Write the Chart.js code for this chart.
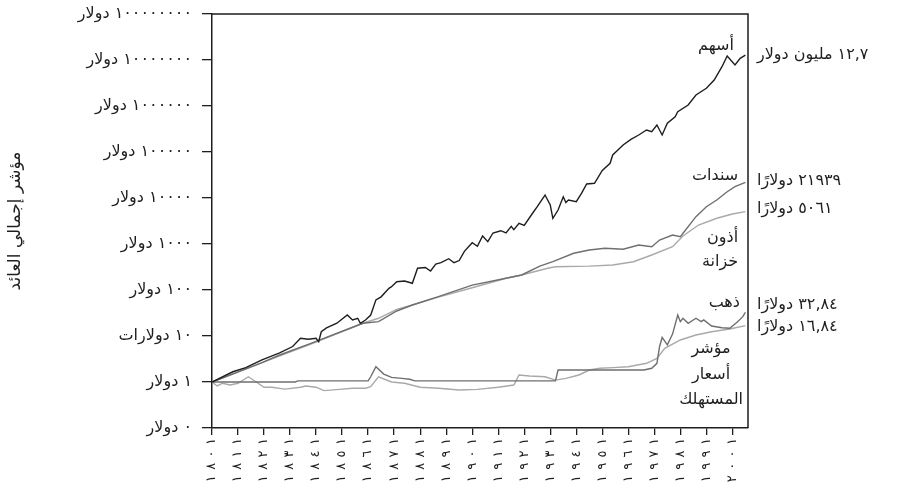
<!DOCTYPE html>
<html lang="ar">
<head>
<meta charset="utf-8">
<script src="https://cdn.jsdelivr.net/npm/chart.js@4.4.1/dist/chart.umd.min.js"></script>
<style>
  html, body { margin: 0; padding: 0; background: #fff; }
</style>
</head>
<body>
<canvas id="returns" width="907" height="495"></canvas>
<script>
// ---------- Data ($1 invested in 1801) ----------
const stockYears = [1801,1809,1814,1820,1827,1832,1835,1838,1841,1842,1843,1845,1849,1853,1855,1857,1858,1860,1862,1864,
  1866,1869,1870,1872,1875,1878,1880,1883,1885,1887,1889,1892,1894,1896,1898,1901,1903,1905,1907,1909,
  1912,1914,1916,1917,1919,1921,1924,1926,1929,1931,1932,1934,1936,1937,1938,1941,1943,1945,1948,1951,
  1954,1955,1957,1959,1962,1965,1968,1970,1972,1974,1976,1979,1980,1984,1987,1991,1994,1997,1999,2002,
  2004,2006];
const stockValues = [1,1.67,2.05,3.0,4.3,5.9,8.9,8.5,8.9,7.5,12.4,15,19,28.6,22.3,24.3,18.9,22.3,28.6,61,
  71,109,118,151,157,140,297,308,259,367,392,479,392,437,693,1067,891,1493,1122,1734,
  1945,1734,2427,2047,2818,2552,4487,6471,11610,7049,3622,5480,10670,7980,9050,8320,12650,20140,20890,39650,
  56750,86100,110500,141900,188700,234200,300900,276300,386300,234200,420700,585000,751000,1052000,1735000,2427000,3673000,7145000,12220000,7782000,
  10890000,12700000];

const bondYears = [1801,1820,1827,1839,1859,1865,1872,1878,1888,1901,1914,1920,1927,1932,1940,1946,1952,1959,1965,1970,
  1973,1978,1981,1983,1987,1991,1995,1999,2002,2006];
const bondValues = [1,2.6,3.86,6.9,18.9,20.5,35,47.2,71.5,128,180,212,332,412,628,741,807,767,951,873,
  1222,1570,1443,2015,3926,6471,9050,13710,17620,21939];

const billYears = [1801,1820,1839,1859,1865,1872,1878,1888,1901,1914,1920,1930,1933,1946,1955,1963,1970,1978,1982,1988,
  1995,2001,2006];
const billValues = [1,2.6,6.7,18.9,24.3,38,47.2,70,112,180,212,297,321,330,349,412,577,873,1493,2588,
  3622,4487,5061];

const goldYears = [1801,1833,1834,1861,1862,1864,1867,1870,1874,1877,1879,1933,1934,1967,1970,1972,1973,1974,1976,1978,
  1980,1981,1982,1984,1987,1989,1990,1993,1997,2000,2003,2005,2006];
const goldValues = [1,1,1.06,1.06,1.3,2.15,1.49,1.26,1.2,1.15,1.06,1.06,1.82,1.82,1.99,2.55,5.85,9.3,6.4,11,
  28.6,20.5,24.3,18.9,24.3,20.5,22.3,16.5,15.1,14.7,20.5,26.3,32.84];

const cpiYears = [1801,1803,1805,1808,1811,1815,1818,1821,1824,1829,1835,1837,1841,1844,1850,1855,1860,1862,1865,1870,
  1875,1881,1888,1896,1903,1911,1917,1919,1923,1929,1933,1937,1942,1946,1950,1955,1961,1968,1972,1975,
  1981,1987,1993,2000,2006];
const cpiValues = [1,0.82,0.94,0.86,0.94,1.3,1.0,0.77,0.77,0.7,0.77,0.82,0.77,0.65,0.69,0.73,0.73,0.79,1.3,1.0,
  0.94,0.77,0.73,0.67,0.69,0.77,0.86,1.42,1.35,1.3,1.1,1.2,1.42,1.82,1.99,2.05,2.15,2.55,3.27,5.41,
  8.2,10.5,12.4,14.2,16.84];

const xTickYears = [1801,1811,1821,1831,1841,1851,1861,1871,1881,1891,1901,1911,1921,1931,1941,1951,1961,1971,1981,1991,2001];
const yTickValues = [0.1,1,10,100,1000,10000,100000,1000000,10000000,100000000];
const yTickLabels = ['٠ دولار','١ دولار','١٠ دولارات','١٠٠ دولار','١٠٠٠ دولار','١٠٠٠٠ دولار',
  '١٠٠٠٠٠ دولار','١٠٠٠٠٠٠ دولار','١٠٠٠٠٠٠٠ دولار','١٠٠٠٠٠٠٠٠ دولار'];
const endLabels = ['١٢,٧ مليون دولار','٢١٩٣٩ دولارًا','٥٠٦١ دولارًا','٣٢,٨٤ دولارًا','١٦,٨٤ دولارًا'];

// ---------- Helpers ----------
const AR_DIGITS = '٠١٢٣٤٥٦٧٨٩';
const toArabic = (n) => String(n).replace(/\d/g, d => AR_DIGITS[d]);
// year labels are printed with wide gaps between digits; the LRM keeps digit order intact
const spacedYear = (n) => toArabic(n).split('').join('\u200E \u200A');
const pairs = (xs, ys) => xs.map((x, i) => ({ x, y: ys[i] }));

const INK = '#1e1e1e';
const MID = '#6f6f6f';
const LIGHT = '#a9a9a9';

Chart.defaults.font.family = "'DejaVu Sans', sans-serif";
Chart.defaults.color = INK;

function line(label, xs, ys, color) {
  return {
    label,
    data: pairs(xs, ys),
    borderColor: color,
    borderWidth: 1.4,
    pointRadius: 0,
    tension: 0,
    fill: false
  };
}

// Frame (top/right) + series names + end values
const frameAndLabels = {
  id: 'frameAndLabels',
  afterDatasetsDraw(chart) {
    const { ctx, chartArea: a, scales: { x, y } } = chart;
    ctx.save();
    ctx.strokeStyle = INK;
    ctx.lineWidth = 1.5;
    ctx.beginPath();
    ctx.moveTo(a.left, a.top);
    ctx.lineTo(a.right, a.top);
    ctx.lineTo(a.right, a.bottom);
    ctx.stroke();

    ctx.fillStyle = INK;
    ctx.font = "16px 'DejaVu Sans', sans-serif";
    ctx.textBaseline = 'middle';

    // series names inside the plot, anchored in data space
    const names = [
      ['أسهم', 2001.6, 2.0e7, 'right'],
      ['سندات', 2003.2, 30000, 'right'],
      ['أذون', 2003.2, 1350, 'right'],
      ['خزانة', 2003.2, 406, 'right'],
      ['ذهب', 2003.9, 52, 'right'],
      ['مؤشر', 1992.8, 5.2, 'center'],
      ['أسعار', 1992.8, 1.42, 'center'],
      ['المستهلك', 1992.8, 0.41, 'center']
    ];
    names.forEach(([t, yr, v, align]) => {
      ctx.textAlign = align;
      ctx.fillText(t, x.getPixelForValue(yr), y.getPixelForValue(v));
    });

    // end values to the right of the frame
    const ends = [stockValues, bondValues, billValues, goldValues, cpiValues].map(s => s[s.length - 1]);
    const nudge = [0, -1, -3, -7, 1];
    ctx.textAlign = 'left';
    endLabels.forEach((t, i) => {
      ctx.fillText(t, a.right + 9, y.getPixelForValue(ends[i]) + nudge[i]);
    });
    ctx.restore();
  }
};

new Chart(document.getElementById('returns'), {
  type: 'line',
  data: {
    datasets: [
      line('أسهم', stockYears, stockValues, INK),
      line('سندات', bondYears, bondValues, MID),
      line('ذهب', goldYears, goldValues, MID),
      line('أذون خزانة', billYears, billValues, LIGHT),
      line('مؤشر أسعار المستهلك', cpiYears, cpiValues, LIGHT)
    ]
  },
  options: {
    responsive: false,
    animation: false,
    layout: { padding: { top: 14, right: 159, bottom: 0, left: 0 } },
    plugins: {
      legend: { display: false },
      tooltip: { enabled: false }
    },
    scales: {
      x: {
        type: 'linear',
        min: 1801,
        max: 2007,
        afterBuildTicks: (s) => { s.ticks = xTickYears.map(v => ({ value: v })); },
        afterFit: (s) => { s.height = 67; },
        border: { color: INK, width: 1.5 },
        grid: { drawOnChartArea: false, tickLength: 7, color: INK, lineWidth: 1.3 },
        ticks: {
          autoSkip: false,
          minRotation: 90,
          maxRotation: 90,
          padding: 3,
          color: INK,
          font: { size: 13 },
          callback: (v) => spacedYear(v)
        }
      },
      y: {
        type: 'logarithmic',
        min: 0.1,
        max: 100000000,
        afterBuildTicks: (s) => { s.ticks = yTickValues.map(v => ({ value: v })); },
        afterFit: (s) => { s.width = 212; s.paddingTop = 0; s.paddingBottom = 0; },
        border: { color: INK, width: 1.5 },
        grid: { drawOnChartArea: false, tickLength: 10, color: INK, lineWidth: 1.3 },
        ticks: {
          autoSkip: false,
          padding: 10,
          color: INK,
          font: { size: 16 },
          callback: (v) => yTickLabels[yTickValues.indexOf(v)]
        },
        title: {
          display: true,
          text: 'مؤشر إجمالي العائد',
          color: INK,
          font: { size: 17 },
          padding: { top: 5, bottom: 0 }
        }
      }
    }
  },
  plugins: [frameAndLabels]
});
</script>
</body>
</html>
